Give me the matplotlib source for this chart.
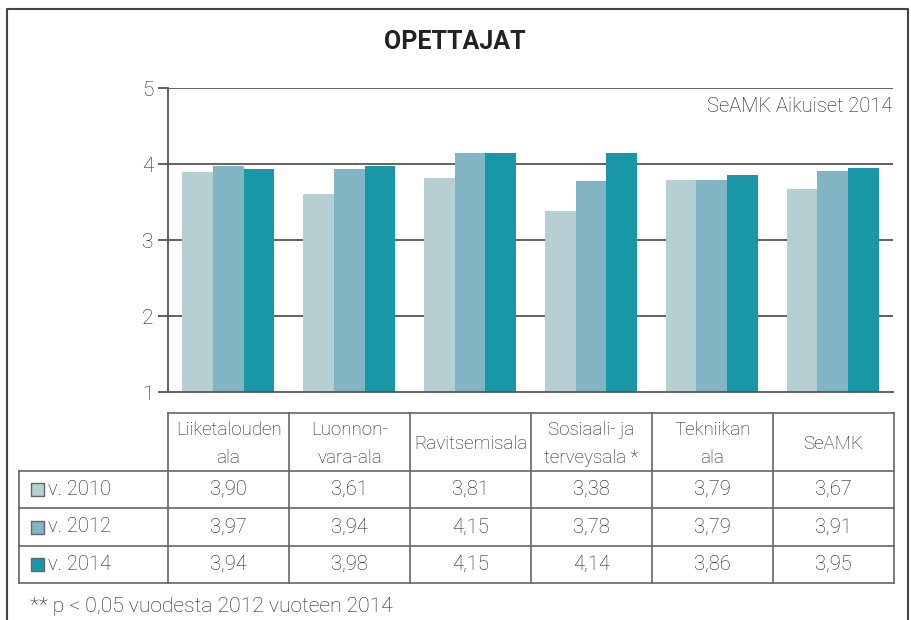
import matplotlib.pyplot as plt
from matplotlib.patches import Rectangle

categories = ["Liiketalouden\nala", "Luonnon-\nvara-ala", "Ravitsemisala",
              "Sosiaali- ja\nterveysala *", "Tekniikan\nala", "SeAMK"]
years = ["v. 2010", "v. 2012", "v. 2014"]
v2010 = [3.90, 3.61, 3.81, 3.38, 3.79, 3.67]
v2012 = [3.97, 3.94, 4.15, 3.78, 3.79, 3.91]
v2014 = [3.94, 3.98, 4.15, 4.14, 3.86, 3.95]
series = [v2010, v2012, v2014]
colors = ["#b5cfd3", "#82b5c3", "#1a97a6"]

plt.rcParams['font.family'] = ['Roboto', 'DejaVu Sans']
plt.rcParams['font.weight'] = 'light'
txt = "#1e1e1e"
line = "#555555"

W, H = 911, 620
fig = plt.figure(figsize=(W / 100, H / 100), dpi=100)

# overlay in pixel coordinates for frame, title, table
ov = fig.add_axes([0, 0, 1, 1])
ov.set_xlim(0, W)
ov.set_ylim(H, 0)
ov.axis("off")
ov.plot([7, 7, 908, 908], [H + 5, 9, 9, H + 5], color="#444444", lw=1.5)
ov.text(455, 42, "OPETTAJAT", ha="center", va="center", fontsize=18,
        fontweight="bold", color="#222222")

# bar chart
x0, x1, y0, y1 = 168, 893, 88, 392
ax = fig.add_axes([x0 / W, 1 - y1 / H, (x1 - x0) / W, (y1 - y0) / H])
ax.set_xlim(-0.5, len(categories) - 0.5)
ax.set_ylim(1, 5)
bw = 0.254
for i, (vals, c) in enumerate(zip(series, colors)):
    ax.bar([k + (i - 1) * bw for k in range(len(categories))], vals, bw,
           bottom=0, color=c, zorder=2)
for yv in [2, 3, 4, 5]:
    ax.axhline(yv, color=line, lw=1.3, zorder=1)
for s in ["top", "right"]:
    ax.spines[s].set_visible(False)
ax.spines["left"].set_color(line)
ax.spines["bottom"].set_color(line)
ax.spines["left"].set_linewidth(1.3)
ax.spines["bottom"].set_linewidth(1.3)
ax.set_xticks([])
ax.set_yticks([1, 2, 3, 4, 5])
ax.tick_params(axis="y", length=7.5, width=1.3, color=line, labelsize=15,
               labelcolor=txt, pad=3)
ax.text(0.9985, 0.94, "SeAMK Aikuiset 2014", transform=ax.transAxes,
        ha="right", va="center", fontsize=14.5, color=txt)

# data table
col_x = [19] + [x0 + k * (894 - x0) / 6 for k in range(7)]
row_y = [413, 471, 508, 546, 583]
tl = dict(color="#666666", lw=1.2)
ov.plot([col_x[1], col_x[-1]], [row_y[0], row_y[0]], **tl)
for yy in row_y[1:]:
    ov.plot([col_x[0], col_x[-1]], [yy, yy], **tl)
ov.plot([col_x[0], col_x[0]], [row_y[1], row_y[-1]], **tl)
for xx in col_x[1:]:
    ov.plot([xx, xx], [row_y[0], row_y[-1]], **tl)
for k, cat in enumerate(categories):
    cx = (col_x[k + 1] + col_x[k + 2]) / 2
    ov.text(cx, (row_y[0] + row_y[1]) / 2 + 2, cat, ha="center", va="center",
            fontsize=13.5, color=txt, linespacing=1.7)
for r, (name, vals, c) in enumerate(zip(years, series, colors)):
    cy = (row_y[r + 1] + row_y[r + 2]) / 2
    ov.add_patch(Rectangle((31, cy - 6.5), 13, 13, facecolor=c,
                           edgecolor="#666666", lw=1))
    ov.text(48, cy, name, ha="left", va="center", fontsize=14.5, color=txt)
    for k, v in enumerate(vals):
        cx = (col_x[k + 1] + col_x[k + 2]) / 2
        ov.text(cx, cy, f"{v:.2f}".replace(".", ","), ha="center",
                va="center", fontsize=14.5, color=txt)

ov.text(30, 606, "** p < 0,05 vuodesta 2012 vuoteen 2014", ha="left",
        va="center", fontsize=15.2, color=txt)

fig.savefig("out.png", dpi=100)
